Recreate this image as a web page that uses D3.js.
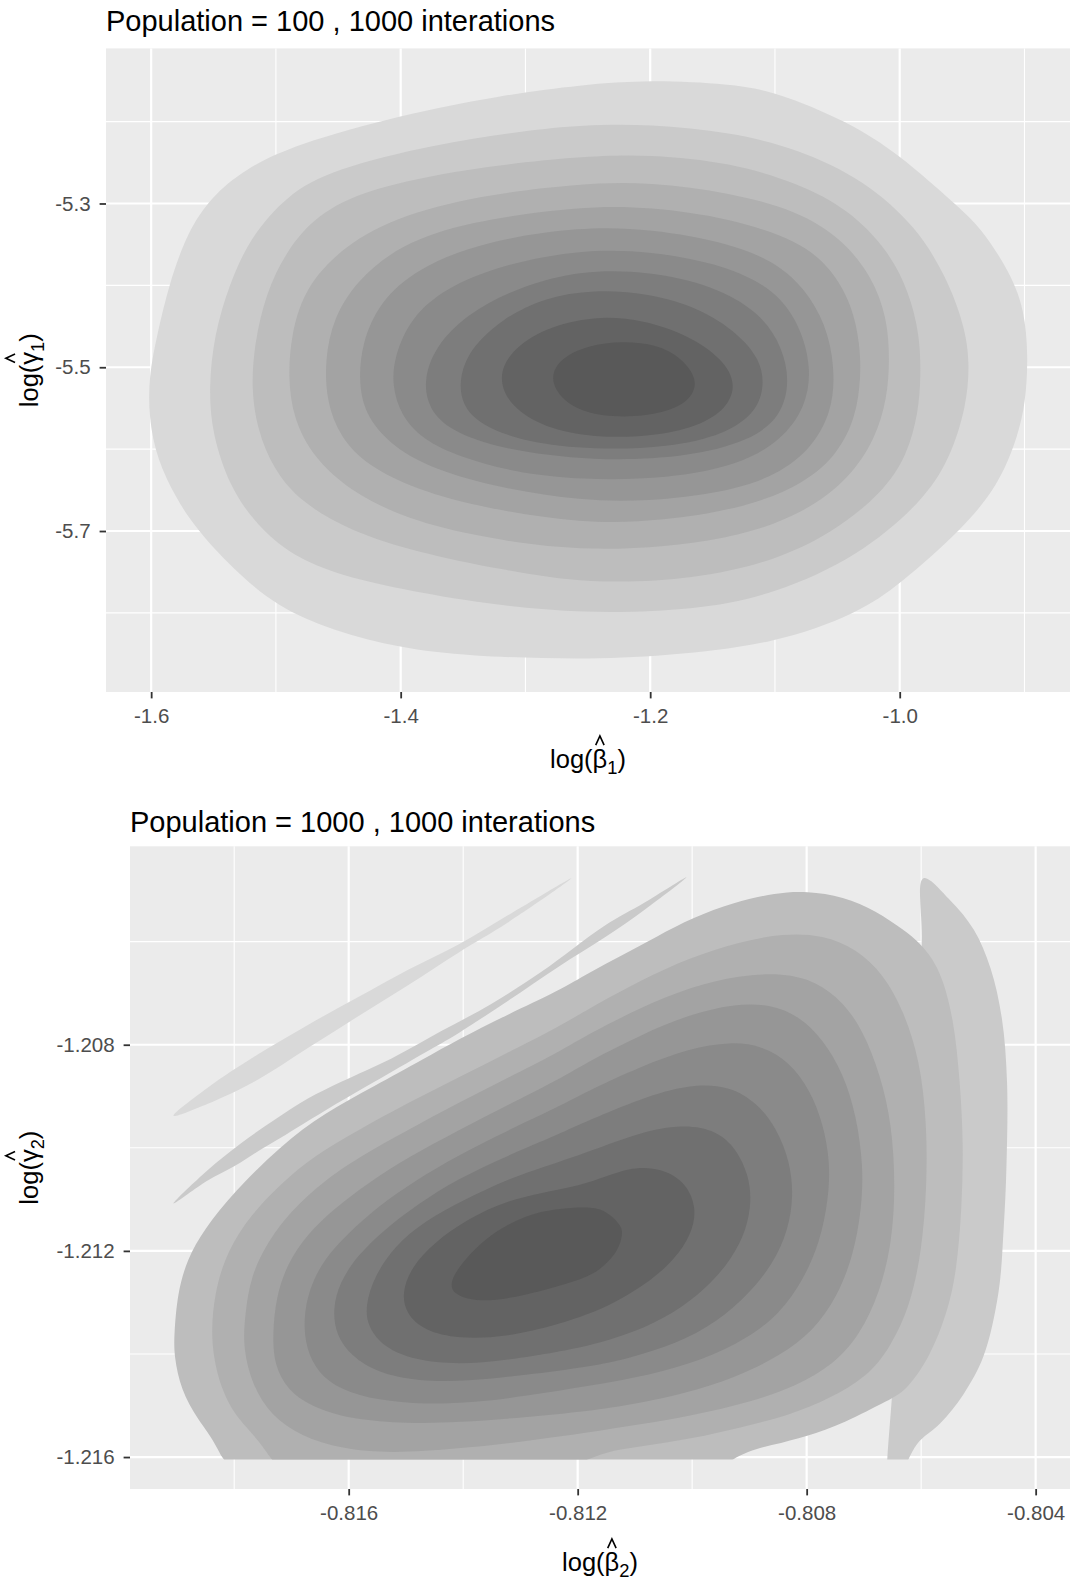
<!DOCTYPE html>
<html>
<head>
<meta charset="utf-8">
<script src="https://cdn.jsdelivr.net/npm/d3@7"></script>
<style>
  body { margin: 0; background: #ffffff; }
  svg { display: block; }
  text { font-family: "Liberation Sans", Arial, Helvetica, sans-serif; }
</style>
</head>
<body>
<svg id="chart" width="1070" height="1580"></svg>
<script>
// Fill for each density band, outermost (lowest) level first
const bandFills = ["#d9d9d9", "#cacaca", "#bdbdbd", "#b0b0b0", "#a3a3a3", "#969696",
                   "#8a8a8a", "#7d7d7d", "#707070", "#636363", "#595959"];

// ---------- Panel A : population 100 ----------
const titleA = "Population = 100 , 1000 interations";
const xDomainA = [-1.6362, -0.8635];
const yDomainA = [-5.8966, -5.1106];
const xTicksA = [-1.6, -1.4, -1.2, -1.0];
const xTickLabelsA = ["-1.6", "-1.4", "-1.2", "-1.0"];
const xMinorA = [-1.5, -1.3, -1.1, -0.9];
const yTicksA = [-5.3, -5.5, -5.7];
const yTickLabelsA = ["-5.3", "-5.5", "-5.7"];
const yMinorA = [-5.2, -5.4, -5.6, -5.8];

// Density contour boundaries, [log(beta1), log(gamma1)] per vertex
const contoursA = [
  { level: 1, ring: [[-1.6019,-5.511],[-1.5952,-5.460],[-1.5858,-5.399],[-1.5710,-5.335],[-1.5520,-5.292],[-1.5250,-5.258],[-1.4850,-5.228],[-1.4003,-5.192],[-1.320,-5.168],[-1.255,-5.155],[-1.200,-5.149],[-1.1357,-5.154],[-1.100,-5.163],[-1.0411,-5.200],[-1.0005,-5.240],[-0.9546,-5.302],[-0.9357,-5.328],[-0.9114,-5.384],[-0.900,-5.430],[-0.897,-5.486],[-0.899,-5.543],[-0.906,-5.588],[-0.921,-5.644],[-0.9492,-5.697],[-1.0005,-5.766],[-1.033,-5.800],[-1.100,-5.838],[-1.1897,-5.853],[-1.255,-5.857],[-1.3465,-5.853],[-1.4003,-5.843],[-1.454,-5.822],[-1.4997,-5.792],[-1.5347,-5.746],[-1.5642,-5.697],[-1.5804,-5.659],[-1.5952,-5.613],[-1.6019,-5.562]] },
  { level: 2, ring: [[-1.554,-5.527],[-1.5495,-5.460],[-1.5374,-5.399],[-1.5212,-5.343],[-1.4917,-5.290],[-1.454,-5.258],[-1.3734,-5.228],[-1.300,-5.211],[-1.255,-5.204],[-1.200,-5.203],[-1.1357,-5.213],[-1.0816,-5.233],[-1.0276,-5.272],[-0.987,-5.328],[-0.9627,-5.389],[-0.9478,-5.450],[-0.9438,-5.495],[-0.9465,-5.548],[-0.960,-5.613],[-0.9816,-5.664],[-1.033,-5.731],[-1.100,-5.777],[-1.1627,-5.797],[-1.255,-5.801],[-1.3331,-5.789],[-1.4003,-5.771],[-1.454,-5.752],[-1.4917,-5.726],[-1.5185,-5.687],[-1.5374,-5.644],[-1.5508,-5.583]] },
  { level: 3, ring: [[-1.5199,-5.527],[-1.5172,-5.470],[-1.5078,-5.409],[-1.4917,-5.358],[-1.4675,-5.314],[-1.4272,-5.282],[-1.3465,-5.257],[-1.255,-5.242],[-1.200,-5.240],[-1.1357,-5.250],[-1.0816,-5.275],[-1.0411,-5.307],[-1.0086,-5.358],[-0.9924,-5.409],[-0.9840,-5.460],[-0.9830,-5.511],[-0.9850,-5.555],[-0.9940,-5.608],[-1.0141,-5.654],[-1.0546,-5.703],[-1.100,-5.736],[-1.1627,-5.759],[-1.250,-5.765],[-1.3196,-5.747],[-1.3868,-5.726],[-1.4406,-5.700],[-1.4809,-5.664],[-1.5024,-5.623],[-1.5145,-5.578]] },
  { level: 4, ring: [[-1.4903,-5.511],[-1.4876,-5.460],[-1.4782,-5.409],[-1.454,-5.363],[-1.4137,-5.322],[-1.3465,-5.292],[-1.255,-5.275],[-1.200,-5.274],[-1.1357,-5.287],[-1.0816,-5.309],[-1.0465,-5.343],[-1.0222,-5.389],[-1.0100,-5.440],[-1.0080,-5.491],[-1.0100,-5.537],[-1.0195,-5.588],[-1.0411,-5.637],[-1.0762,-5.678],[-1.1357,-5.712],[-1.250,-5.728],[-1.3465,-5.705],[-1.4003,-5.682],[-1.4406,-5.651],[-1.4702,-5.610],[-1.4863,-5.562]] },
  { level: 5, ring: [[-1.4594,-5.542],[-1.4608,-5.491],[-1.454,-5.440],[-1.4352,-5.394],[-1.4003,-5.350],[-1.3465,-5.322],[-1.255,-5.303],[-1.200,-5.304],[-1.1357,-5.318],[-1.0816,-5.345],[-1.0546,-5.379],[-1.0380,-5.425],[-1.0320,-5.471],[-1.0310,-5.511],[-1.0350,-5.560],[-1.0492,-5.605],[-1.0762,-5.642],[-1.1222,-5.671],[-1.1897,-5.688],[-1.255,-5.691],[-1.3331,-5.672],[-1.3868,-5.650],[-1.4272,-5.620],[-1.4487,-5.585]] },
  { level: 6, ring: [[-1.4339,-5.521],[-1.4312,-5.470],[-1.4164,-5.419],[-1.3868,-5.379],[-1.3331,-5.346],[-1.255,-5.328],[-1.200,-5.331],[-1.1357,-5.348],[-1.0951,-5.375],[-1.0708,-5.414],[-1.0565,-5.460],[-1.0518,-5.511],[-1.0550,-5.555],[-1.0700,-5.598],[-1.0980,-5.632],[-1.1400,-5.653],[-1.2032,-5.664],[-1.255,-5.663],[-1.3196,-5.648],[-1.3734,-5.625],[-1.4056,-5.598],[-1.4272,-5.562]] },
  { level: 7, ring: [[-1.407,-5.522],[-1.405,-5.486],[-1.392,-5.440],[-1.365,-5.404],[-1.320,-5.375],[-1.255,-5.356],[-1.200,-5.358],[-1.140,-5.375],[-1.100,-5.405],[-1.080,-5.448],[-1.0707,-5.500],[-1.075,-5.548],[-1.095,-5.590],[-1.130,-5.620],[-1.185,-5.636],[-1.255,-5.638],[-1.310,-5.628],[-1.352,-5.610],[-1.383,-5.588],[-1.400,-5.558]] },
  { level: 8, ring: [[-1.3815,-5.516],[-1.373,-5.476],[-1.347,-5.435],[-1.306,-5.402],[-1.255,-5.381],[-1.200,-5.383],[-1.150,-5.400],[-1.112,-5.433],[-1.094,-5.475],[-1.0881,-5.518],[-1.095,-5.560],[-1.120,-5.590],[-1.170,-5.610],[-1.245,-5.615],[-1.320,-5.600],[-1.360,-5.578],[-1.378,-5.550]] },
  { level: 9, ring: [[-1.3532,-5.515],[-1.345,-5.478],[-1.318,-5.440],[-1.285,-5.415],[-1.245,-5.405],[-1.200,-5.410],[-1.160,-5.428],[-1.130,-5.458],[-1.112,-5.490],[-1.1083,-5.522],[-1.115,-5.555],[-1.140,-5.582],[-1.185,-5.598],[-1.245,-5.601],[-1.300,-5.592],[-1.337,-5.570],[-1.351,-5.545]] },
  { level: 10, ring: [[-1.3223,-5.513],[-1.312,-5.480],[-1.285,-5.452],[-1.245,-5.437],[-1.205,-5.442],[-1.168,-5.462],[-1.142,-5.490],[-1.131,-5.520],[-1.138,-5.550],[-1.162,-5.573],[-1.200,-5.585],[-1.245,-5.586],[-1.285,-5.574],[-1.312,-5.548]] },
  { level: 11, ring: [[-1.2806,-5.513],[-1.272,-5.489],[-1.250,-5.473],[-1.222,-5.468],[-1.195,-5.472],[-1.175,-5.488],[-1.1616,-5.515],[-1.167,-5.540],[-1.188,-5.556],[-1.222,-5.562],[-1.253,-5.556],[-1.272,-5.538]] }
];

// ---------- Panel B : population 1000 ----------
const titleB = "Population = 1000 , 1000 interations";
const xDomainB = [-0.81982, -0.80340];
const yDomainB = [-1.21662, -1.20415];
const yLowestB = -1.21605;   // smallest log(gamma2) in the sample; the density grid stops here
const xTicksB = [-0.816, -0.812, -0.808, -0.804];
const xTickLabelsB = ["-0.816", "-0.812", "-0.808", "-0.804"];
const xMinorB = [-0.818, -0.814, -0.810, -0.806];
const yTicksB = [-1.208, -1.212, -1.216];
const yTickLabelsB = ["-1.208", "-1.212", "-1.216"];
const yMinorB = [-1.206, -1.210, -1.214];

// Density contour boundaries, [log(beta2), log(gamma2)] per vertex (drawn in order)
const contoursB = [
  { level: 1, ring: [[-0.81906,-1.20938],[-0.81847,-1.20884],[-0.81759,-1.20819],[-0.81672,-1.20762],[-0.81584,-1.20708],[-0.81497,-1.20655],[-0.81409,-1.20606],[-0.81322,-1.20549],[-0.81211,-1.20477],[-0.81322,-1.20563],[-0.81409,-1.20622],[-0.81497,-1.20685],[-0.81584,-1.20745],[-0.81672,-1.20807],[-0.81759,-1.20868],[-0.81847,-1.20915]] },
  { level: 2, ring: [[-0.81906,-1.21108],[-0.81847,-1.21044],[-0.81788,-1.20991],[-0.81730,-1.20946],[-0.81672,-1.20905],[-0.81613,-1.20872],[-0.81526,-1.20827],[-0.81439,-1.20774],[-0.81351,-1.20721],[-0.81264,-1.20659],[-0.81153,-1.20569],[-0.81083,-1.20524],[-0.81010,-1.20475],[-0.81083,-1.20538],[-0.81153,-1.20592],[-0.81234,-1.20649],[-0.81322,-1.20715],[-0.81409,-1.20778],[-0.81468,-1.20816],[-0.81555,-1.20872],[-0.81643,-1.20929],[-0.81718,-1.20980],[-0.81759,-1.21007],[-0.81800,-1.21036],[-0.81847,-1.21064]] },
  { level: 2, ring: [[-0.80596,-1.20477],[-0.80549,-1.20520],[-0.80508,-1.20577],[-0.80479,-1.20651],[-0.80459,-1.20749],[-0.80450,-1.20872],[-0.80451,-1.21036],[-0.80456,-1.21159],[-0.80465,-1.21281],[-0.80491,-1.21404],[-0.80526,-1.21478],[-0.80567,-1.21535],[-0.80608,-1.21576],[-0.80656,-1.21680],[-0.80651,-1.21482],[-0.80608,-1.21036],[-0.80599,-1.20598]] },
  { level: 3, ring: [[-0.81905,-1.21363],[-0.81899,-1.21281],[-0.81882,-1.21216],[-0.81853,-1.21159],[-0.81800,-1.21085],[-0.81718,-1.20995],[-0.81643,-1.20933],[-0.81555,-1.20880],[-0.81468,-1.20827],[-0.81409,-1.20790],[-0.81322,-1.20741],[-0.81234,-1.20696],[-0.81179,-1.20659],[-0.81121,-1.20626],[-0.81062,-1.20590],[-0.80998,-1.20553],[-0.80928,-1.20524],[-0.80853,-1.20505],[-0.80800,-1.20502],[-0.80736,-1.20512],[-0.80678,-1.20541],[-0.80631,-1.20577],[-0.80602,-1.20602],[-0.80567,-1.20651],[-0.80543,-1.20749],[-0.80532,-1.20872],[-0.80526,-1.20995],[-0.80529,-1.21118],[-0.80538,-1.21241],[-0.80555,-1.21322],[-0.80584,-1.21404],[-0.80625,-1.21470],[-0.80654,-1.21488],[-0.80736,-1.21535],[-0.80800,-1.21560],[-0.80858,-1.21576],[-0.80934,-1.21597],[-0.80998,-1.21680],[-0.81791,-1.21680],[-0.81829,-1.21576],[-0.81864,-1.21527],[-0.81893,-1.21470],[-0.81905,-1.21404]] },
  { level: 4, ring: [[-0.81842,-1.21380],[-0.81835,-1.21281],[-0.81812,-1.21200],[-0.81771,-1.21130],[-0.81718,-1.21069],[-0.81660,-1.21015],[-0.81584,-1.20966],[-0.81497,-1.20913],[-0.81409,-1.20864],[-0.81322,-1.20815],[-0.81234,-1.20766],[-0.81179,-1.20729],[-0.81092,-1.20676],[-0.81004,-1.20631],[-0.80917,-1.20600],[-0.80841,-1.20584],[-0.80771,-1.20587],[-0.80713,-1.20614],[-0.80666,-1.20663],[-0.80631,-1.20733],[-0.80602,-1.20831],[-0.80590,-1.20954],[-0.80590,-1.21077],[-0.80599,-1.21200],[-0.80619,-1.21306],[-0.80654,-1.21388],[-0.80695,-1.21445],[-0.80759,-1.21486],[-0.80829,-1.21519],[-0.80917,-1.21543],[-0.80998,-1.21564],[-0.81092,-1.21580],[-0.81179,-1.21593],[-0.81293,-1.21680],[-0.81695,-1.21680],[-0.81748,-1.21576],[-0.81794,-1.21527],[-0.81823,-1.21470]] },
  { level: 5, ring: [[-0.81785,-1.21388],[-0.81781,-1.21322],[-0.81771,-1.21249],[-0.81742,-1.21183],[-0.81701,-1.21122],[-0.81643,-1.21064],[-0.81584,-1.21019],[-0.81497,-1.20966],[-0.81409,-1.20913],[-0.81322,-1.20864],[-0.81234,-1.20815],[-0.81179,-1.20778],[-0.81092,-1.20729],[-0.81004,-1.20688],[-0.80917,-1.20665],[-0.80841,-1.20661],[-0.80783,-1.20677],[-0.80736,-1.20717],[-0.80701,-1.20774],[-0.80672,-1.20856],[-0.80651,-1.20954],[-0.80645,-1.21077],[-0.80651,-1.21183],[-0.80672,-1.21281],[-0.80707,-1.21363],[-0.80753,-1.21421],[-0.80818,-1.21462],[-0.80899,-1.21494],[-0.80998,-1.21519],[-0.81092,-1.21537],[-0.81179,-1.21552],[-0.81293,-1.21570],[-0.81409,-1.21584],[-0.81526,-1.21593],[-0.81613,-1.21584],[-0.81683,-1.21560],[-0.81736,-1.21519],[-0.81768,-1.21462]] },
  { level: 6, ring: [[-0.81179,-1.20831],[-0.81092,-1.20782],[-0.81004,-1.20741],[-0.80928,-1.20721],[-0.80864,-1.20721],[-0.80812,-1.20745],[-0.80771,-1.20790],[-0.80736,-1.20856],[-0.80713,-1.20938],[-0.80701,-1.21036],[-0.80704,-1.21118],[-0.80718,-1.21208],[-0.80747,-1.21290],[-0.80788,-1.21355],[-0.80847,-1.21404],[-0.80922,-1.21445],[-0.81016,-1.21478],[-0.81103,-1.21498],[-0.81179,-1.21511],[-0.81293,-1.21523],[-0.81409,-1.21533],[-0.81497,-1.21535],[-0.81596,-1.21527],[-0.81666,-1.21502],[-0.81707,-1.21470],[-0.81730,-1.21421],[-0.81733,-1.21363],[-0.81727,-1.21290],[-0.81707,-1.21224],[-0.81672,-1.21167],[-0.81625,-1.21118],[-0.81567,-1.21069],[-0.81497,-1.21019],[-0.81409,-1.20966],[-0.81322,-1.20917],[-0.81234,-1.20868]] },
  { level: 7, ring: [[-0.81179,-1.20888],[-0.81092,-1.20843],[-0.81004,-1.20807],[-0.80934,-1.20794],[-0.80876,-1.20802],[-0.80829,-1.20835],[-0.80794,-1.20888],[-0.80771,-1.20954],[-0.80759,-1.21028],[-0.80762,-1.21101],[-0.80777,-1.21183],[-0.80806,-1.21257],[-0.80847,-1.21322],[-0.80905,-1.21371],[-0.80981,-1.21412],[-0.81074,-1.21441],[-0.81179,-1.21462],[-0.81293,-1.21482],[-0.81380,-1.21494],[-0.81468,-1.21498],[-0.81549,-1.21490],[-0.81613,-1.21470],[-0.81654,-1.21437],[-0.81675,-1.21388],[-0.81679,-1.21331],[-0.81669,-1.21273],[-0.81643,-1.21216],[-0.81602,-1.21167],[-0.81549,-1.21114],[-0.81485,-1.21064],[-0.81409,-1.21015],[-0.81322,-1.20966],[-0.81234,-1.20921]] },
  { level: 8, ring: [[-0.81179,-1.20946],[-0.81092,-1.20905],[-0.81004,-1.20876],[-0.80934,-1.20880],[-0.80887,-1.20913],[-0.80852,-1.20962],[-0.80829,-1.21028],[-0.80823,-1.21093],[-0.80832,-1.21159],[-0.80858,-1.21224],[-0.80899,-1.21281],[-0.80957,-1.21339],[-0.81027,-1.21380],[-0.81109,-1.21408],[-0.81179,-1.21425],[-0.81293,-1.21441],[-0.81392,-1.21453],[-0.81479,-1.21453],[-0.81549,-1.21437],[-0.81596,-1.21404],[-0.81622,-1.21363],[-0.81628,-1.21314],[-0.81616,-1.21261],[-0.81584,-1.21208],[-0.81538,-1.21159],[-0.81479,-1.21109],[-0.81409,-1.21060],[-0.81322,-1.21015],[-0.81234,-1.20974]] },
  { level: 9, ring: [[-0.81179,-1.21007],[-0.81092,-1.20970],[-0.81016,-1.20954],[-0.80957,-1.20966],[-0.80922,-1.21003],[-0.80902,-1.21052],[-0.80896,-1.21101],[-0.80905,-1.21159],[-0.80931,-1.21216],[-0.80975,-1.21273],[-0.81033,-1.21322],[-0.81103,-1.21359],[-0.81179,-1.21384],[-0.81234,-1.21396],[-0.81322,-1.21412],[-0.81409,-1.21421],[-0.81485,-1.21412],[-0.81538,-1.21388],[-0.81567,-1.21347],[-0.81571,-1.21306],[-0.81555,-1.21249],[-0.81520,-1.21191],[-0.81468,-1.21142],[-0.81398,-1.21101],[-0.81322,-1.21060],[-0.81234,-1.21028]] },
  { level: 10, ring: [[-0.81179,-1.21069],[-0.81109,-1.21036],[-0.81051,-1.21040],[-0.81010,-1.21069],[-0.80992,-1.21118],[-0.81001,-1.21167],[-0.81030,-1.21216],[-0.81080,-1.21265],[-0.81138,-1.21302],[-0.81179,-1.21322],[-0.81234,-1.21343],[-0.81322,-1.21367],[-0.81409,-1.21371],[-0.81468,-1.21355],[-0.81500,-1.21322],[-0.81507,-1.21281],[-0.81491,-1.21232],[-0.81450,-1.21183],[-0.81392,-1.21138],[-0.81322,-1.21101],[-0.81234,-1.21081]] },
  { level: 11, ring: [[-0.81179,-1.21114],[-0.81150,-1.21122],[-0.81124,-1.21150],[-0.81121,-1.21167],[-0.81129,-1.21200],[-0.81156,-1.21232],[-0.81179,-1.21249],[-0.81234,-1.21269],[-0.81322,-1.21294],[-0.81380,-1.21298],[-0.81415,-1.21285],[-0.81424,-1.21265],[-0.81409,-1.21232],[-0.81363,-1.21175],[-0.81293,-1.21130],[-0.81234,-1.21118]] }
];

// ---------- drawing ----------
const svg = d3.select("#chart");
const defs = svg.append("defs");

const TICK_FONT = 20.5, TITLE_FONT = 29, AXIS_TITLE_FONT = 25.5;

function axisTitle(g, base, sub) {
  const t = g.append("text")
    .attr("text-anchor", "middle")
    .attr("fill", "#000000")
    .style("font-size", AXIS_TITLE_FONT + "px");
  t.append("tspan").text("log(");
  t.append("tspan").text(base);
  t.append("tspan").attr("dy", 6).style("font-size", (AXIS_TITLE_FONT * 0.72) + "px").text(sub);
  t.append("tspan").attr("dy", -6).text(")");
  // circumflex accent over the estimator symbol
  const ext = t.node().getExtentOfChar(4);
  const cx = ext.x + ext.width / 2;
  const fs = AXIS_TITLE_FONT;
  g.append("path")
    .attr("d", `M${cx - 4.2},${-0.9 * fs} L${cx},${-1.26 * fs} L${cx + 4.2},${-0.9 * fs}`)
    .attr("fill", "none")
    .attr("stroke", "#000000")
    .attr("stroke-width", 1.6);
}

function drawPanel(cfg) {
  const { left, right, top, bottom } = cfg.box;
  const x = d3.scaleLinear().domain(cfg.xDomain).range([left, right]);
  const y = d3.scaleLinear().domain(cfg.yDomain).range([bottom, top]);
  const g = svg.append("g");

  // panel background
  g.append("rect")
    .attr("x", left).attr("y", top)
    .attr("width", right - left).attr("height", bottom - top)
    .attr("fill", "#ebebeb");

  // grid: minor then major
  const grid = g.append("g").attr("stroke", "#ffffff").attr("fill", "none");
  grid.selectAll(".vmin").data(cfg.xMinor).join("line")
    .attr("x1", d => x(d)).attr("x2", d => x(d)).attr("y1", top).attr("y2", bottom)
    .attr("stroke-width", 1.1);
  grid.selectAll(".hmin").data(cfg.yMinor).join("line")
    .attr("y1", d => y(d)).attr("y2", d => y(d)).attr("x1", left).attr("x2", right)
    .attr("stroke-width", 1.1);
  grid.selectAll(".vmaj").data(cfg.xTicks).join("line")
    .attr("x1", d => x(d)).attr("x2", d => x(d)).attr("y1", top).attr("y2", bottom)
    .attr("stroke-width", 2.2);
  grid.selectAll(".hmaj").data(cfg.yTicks).join("line")
    .attr("y1", d => y(d)).attr("y2", d => y(d)).attr("x1", left).attr("x2", right)
    .attr("stroke-width", 2.2);

  // filled density bands, clipped to the panel and to the range the density was estimated on
  const floorY = cfg.yLowest != null ? Math.min(bottom, y(cfg.yLowest)) : bottom;
  defs.append("clipPath").attr("id", cfg.id + "-clip")
    .append("rect").attr("x", left).attr("y", top)
    .attr("width", right - left).attr("height", floorY - top);
  const smooth = d3.line().x(d => x(d[0])).y(d => y(d[1])).curve(d3.curveBasisClosed);
  const sharp = d3.line().x(d => x(d[0])).y(d => y(d[1])).curve(d3.curveCatmullRomClosed.alpha(0.5));
  g.append("g").attr("clip-path", `url(#${cfg.id}-clip)`)
    .selectAll("path").data(cfg.contours).join("path")
    .attr("d", d => (d.level <= cfg.sharpLevels ? sharp : smooth)(d.ring))
    .attr("fill", d => bandFills[d.level - 1])
    .attr("stroke", "none");

  // axes
  const xAxis = d3.axisBottom(x)
    .tickValues(cfg.xTicks)
    .tickFormat((d, i) => cfg.xTickLabels[i])
    .tickSize(6.4).tickPadding(10);
  const ax = g.append("g").attr("transform", `translate(0,${bottom})`).call(xAxis);
  const yAxis = d3.axisLeft(y)
    .tickValues(cfg.yTicks)
    .tickFormat((d, i) => cfg.yTickLabels[i])
    .tickSize(6.4).tickPadding(9);
  const ay = g.append("g").attr("transform", `translate(${left},0)`).call(yAxis);
  [ax, ay].forEach(a => {
    a.select(".domain").remove();
    a.attr("font-family", null).attr("font-size", null);
    a.selectAll(".tick line").attr("stroke", "#333333").attr("stroke-width", 1.8);
    a.selectAll(".tick text").attr("fill", "#4d4d4d").style("font-size", TICK_FONT + "px");
  });

  // plot title
  g.append("text")
    .attr("x", left).attr("y", cfg.titleY)
    .attr("fill", "#000000")
    .style("font-size", TITLE_FONT + "px")
    .text(cfg.title);

  // axis titles
  const xt = g.append("g").attr("transform", `translate(${(left + right) / 2},${cfg.xTitleY})`);
  axisTitle(xt, "\u03B2", cfg.sub);
  const yt = g.append("g").attr("transform", `translate(${cfg.yTitleX},${(top + bottom) / 2}) rotate(-90)`);
  axisTitle(yt, "\u03B3", cfg.sub);
}

drawPanel({
  id: "popA", box: { left: 106, right: 1070, top: 48.4, bottom: 692 },
  xDomain: xDomainA, yDomain: yDomainA,
  xTicks: xTicksA, xTickLabels: xTickLabelsA, xMinor: xMinorA,
  yTicks: yTicksA, yTickLabels: yTickLabelsA, yMinor: yMinorA,
  contours: contoursA, sharpLevels: 0, yLowest: null,
  title: titleA, titleY: 30.5,
  xTitleY: 768, yTitleX: 38, sub: "1"
});

drawPanel({
  id: "popB", box: { left: 130, right: 1070, top: 846.3, bottom: 1489 },
  xDomain: xDomainB, yDomain: yDomainB,
  xTicks: xTicksB, xTickLabels: xTickLabelsB, xMinor: xMinorB,
  yTicks: yTicksB, yTickLabels: yTickLabelsB, yMinor: yMinorB,
  contours: contoursB, sharpLevels: 2, yLowest: yLowestB,
  title: titleB, titleY: 832,
  xTitleY: 1571, yTitleX: 38, sub: "2"
});
</script>
</body>
</html>
